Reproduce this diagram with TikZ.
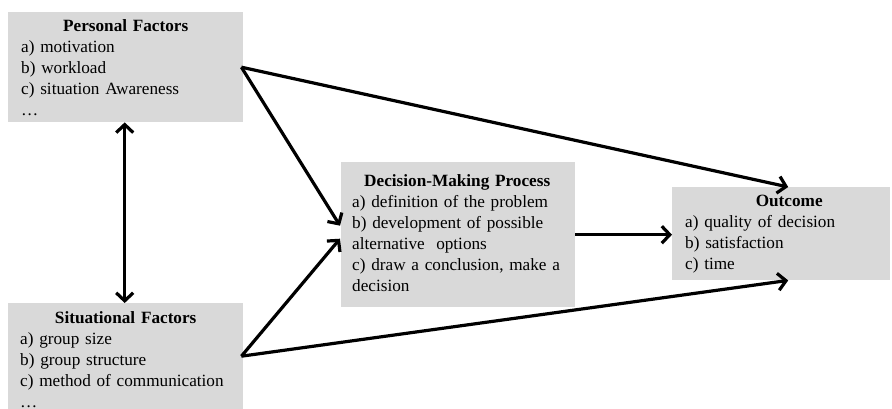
\documentclass[tikz,border=0pt]{standalone}
\usepackage{fontspec}
\setmainfont{Liberation Serif}
\usetikzlibrary{arrows.meta}
\definecolor{boxgray}{HTML}{D9D9D9}
\tikzset{
  box/.style={fill=boxgray, draw=none, inner sep=0pt, anchor=north west},
  txt/.style={inner sep=0pt, anchor=north west, font=\fontsize{17.2}{21}\selectfont},
  conn/.style={line width=3.2pt, -{Straight Barb[length=8pt,width=17pt]}},
  dconn/.style={line width=3.2pt, {Straight Barb[length=8pt,width=17pt]}-{Straight Barb[length=8pt,width=17pt]}}
}
\begin{document}
\begin{tikzpicture}[x=1pt,y=-1pt]
\useasboundingbox (0,0) rectangle (892,409);
% boxes
\node[box, minimum width=235pt, minimum height=110pt] (pf) at (8,12) {};
\node[box, minimum width=235pt, minimum height=106pt] (sf) at (8,303) {};
\node[box, minimum width=234pt, minimum height=145pt] (dm) at (341,162) {};
\node[box, minimum width=218pt, minimum height=93pt] (oc) at (672,187) {};
% texts
\node[txt, text width=209pt] (pft) at (21,19)
  {\centering\textbf{Personal Factors}\par\raggedright
   a) motivation\\ b) workload\\ c) situation Awareness\\ \dots};
\node[txt, text width=211pt] (sft) at (20,311)
  {\centering\textbf{Situational Factors}\par\raggedright
   a) group size\\ b) group structure\\ c) method of communication\\ \dots};
\node[txt, text width=210pt] (dmt) at (352,174)
  {\centering\textbf{Decision-Making Process}\par\raggedright
   a) definition of the problem\\ b) development of possible\\ alternative~ options\\ \mbox{c) draw a conclusion, make a}\\ decision};
\node[txt, text width=208pt] (oct) at (685,195)
  {\centering\textbf{Outcome}\par\raggedright
   a) quality of decision\\ b) satisfaction\\ c) time};
% connectors
\draw[dconn] ([xshift=-1pt]pf.south) -- ([xshift=-1pt]sf.north);
\draw[conn] ([xshift=-2pt]pf.east) -- ([yshift=9pt,xshift=-1pt]dm.west);
\draw[conn] ([xshift=-2pt]sf.east) -- ([yshift=-4pt,xshift=-1pt]dm.west);
\draw[conn] ([xshift=-2pt]pf.east) -- ([xshift=7pt]oc.north);
\draw[conn] ([xshift=-2pt]sf.east) -- ([xshift=7pt]oc.south);
\draw[conn] (dm.east) -- (dm.east -| oc.west);
\end{tikzpicture}
\end{document}
